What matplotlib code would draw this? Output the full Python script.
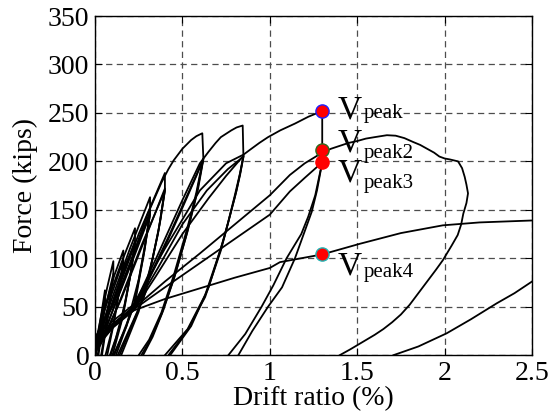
"""
Force vs drift ratio hysteresis with peak markers
"""

import matplotlib
matplotlib.use("Agg")
import matplotlib.pyplot as plt

plt.rcParams['font.family'] = ['Liberation Serif', 'DejaVu Serif']

# ---- data (drift %, force kips) ----
# small cycles near the origin
small_1 = [(0.00, 3), (0.02, 24), (0.04, 47), (0.057, 67), (0.057, 58), (0.045, 38), (0.03, 16), (0.015, 0)]
small_1b = [(0.005, 0), (0.03, 30), (0.057, 58), (0.05, 44), (0.035, 20), (0.02, 0)]
small_2 = [(0.00, 8), (0.03, 36), (0.07, 70), (0.105, 97), (0.105, 82), (0.085, 56), (0.06, 26), (0.035, 0)]
small_2b = [(0.01, 5), (0.05, 42), (0.105, 84), (0.09, 62), (0.065, 30), (0.04, 0)]
small_3 = [(0.00, 10), (0.05, 45), (0.11, 82), (0.162, 108), (0.162, 96), (0.135, 62), (0.10, 28), (0.06, 0)]
small_3b = [(0.02, 8), (0.08, 55), (0.162, 98), (0.14, 68), (0.11, 35), (0.07, 0)]
small_4 = [(0.00, 12), (0.06, 50), (0.15, 95), (0.229, 131), (0.229, 116), (0.20, 80), (0.15, 35), (0.09, 0)]
small_4b = [(0.02, 10), (0.10, 55), (0.229, 118), (0.205, 85), (0.16, 40), (0.10, 0)]
small_4c = [(0.01, 6), (0.09, 48), (0.17, 92), (0.229, 115), (0.21, 90), (0.17, 52), (0.12, 18), (0.085, 0)]
small_5 = [(0.00, 14), (0.08, 50), (0.20, 110), (0.315, 163), (0.315, 146), (0.28, 105), (0.22, 50), (0.11, 0)]
small_5b = [(0.03, 12), (0.12, 55), (0.315, 148), (0.285, 110), (0.23, 55), (0.12, 0)]
small_5c = [(0.02, 8), (0.11, 50), (0.22, 100), (0.315, 145), (0.29, 118), (0.25, 78), (0.18, 30), (0.105, 0)]
small_6 = [(0.00, 16), (0.10, 52), (0.25, 125), (0.40, 188), (0.40, 170), (0.36, 125), (0.28, 60), (0.13, 0)]
small_6b = [(0.04, 14), (0.15, 58), (0.40, 172), (0.365, 130), (0.29, 65), (0.14, 0)]
small_6c = [(0.03, 10), (0.14, 55), (0.27, 115), (0.40, 170), (0.375, 140), (0.33, 100), (0.25, 45), (0.15, 0)]

# cycles to 0.62 %
cyc_062a = [(0.00, 18), (0.10, 50), (0.20, 95), (0.30, 145), (0.38, 178), (0.42, 192), (0.45, 201),
            (0.50, 213), (0.55, 222), (0.58, 226), (0.614, 229), (0.62, 203), (0.60, 186), (0.58, 168),
            (0.55, 146), (0.52, 126), (0.45, 82), (0.38, 44), (0.31, 16), (0.25, 0)]
cyc_062b = [(0.00, 8), (0.10, 30), (0.22, 47), (0.30, 75), (0.40, 112), (0.50, 152), (0.58, 185),
            (0.62, 203), (0.60, 184), (0.58, 165), (0.52, 122), (0.45, 78), (0.38, 42), (0.32, 17), (0.265, 0)]
cyc_062c = [(0.00, 9), (0.10, 31), (0.22, 48), (0.32, 84), (0.42, 122), (0.52, 162), (0.62, 202),
            (0.59, 172), (0.53, 128), (0.46, 84), (0.39, 46), (0.33, 19), (0.275, 0)]

# cycles to 0.85 %
cyc_085a = [(0.00, 10), (0.10, 32), (0.22, 50), (0.35, 100), (0.50, 160), (0.60, 198), (0.65, 210),
            (0.69, 219), (0.72, 225), (0.78, 232), (0.81, 235), (0.845, 237), (0.849, 206), (0.83, 188),
            (0.80, 165), (0.76, 136), (0.72, 110), (0.63, 62), (0.53, 27), (0.40, 0)]
cyc_085b = [(0.00, 6), (0.10, 28), (0.22, 46), (0.35, 82), (0.50, 125), (0.65, 162), (0.75, 185),
            (0.85, 206), (0.83, 186), (0.80, 163), (0.72, 108), (0.63, 60), (0.53, 26), (0.42, 0)]
cyc_085c = [(0.00, 7), (0.10, 29), (0.22, 47), (0.36, 90), (0.50, 135), (0.64, 170), (0.76, 192),
            (0.85, 205), (0.81, 170), (0.74, 122), (0.65, 70), (0.55, 30), (0.43, 0)]

# cycles to 1.3 %
cyc_130a = [(0.00, 12), (0.10, 35), (0.22, 52), (0.40, 110), (0.60, 170), (0.75, 198), (0.85, 207),
            (0.887, 212), (0.94, 219), (0.99, 225), (1.06, 232), (1.144, 239), (1.22, 246), (1.30, 252),
            (1.30, 199), (1.27, 170), (1.24, 148), (1.20, 128), (1.144, 100), (1.07, 70), (0.99, 50),
            (0.90, 25), (0.82, 0)]
cyc_130b = [(0.00, 8), (0.10, 30), (0.22, 47), (0.40, 70), (0.60, 95), (0.80, 120), (1.00, 145),
            (1.115, 169), (1.20, 183), (1.30, 199), (1.26, 165), (1.22, 143), (1.18, 125), (1.096, 100),
            (1.02, 72), (0.953, 50), (0.86, 22), (0.763, 0)]

# cycle to 2.1 %
cyc_210 = [(0.00, 10), (0.10, 32), (0.22, 48), (0.40, 76), (0.60, 105), (0.80, 135), (1.00, 165),
           (1.115, 186), (1.20, 198), (1.30, 209), (1.35, 213), (1.40, 216), (1.45, 219), (1.50, 221),
           (1.55, 223.5), (1.60, 225), (1.67, 227), (1.72, 226.5), (1.77, 224), (1.82, 220), (1.86, 217),
           (1.90, 213), (1.94, 209), (1.97, 205), (2.00, 203), (2.03, 202), (2.077, 200), (2.10, 193),
           (2.115, 184), (2.125, 176), (2.134, 167), (2.125, 157), (2.107, 146), (2.095, 135),
           (2.075, 124), (2.04, 113), (1.99, 98), (1.95, 88), (1.90, 76), (1.85, 64), (1.80, 52),
           (1.75, 42), (1.70, 34), (1.65, 27), (1.60, 21), (1.516, 12), (1.46, 6), (1.40, 0)]

# large cycle beyond the plotted range
cyc_big_load = [(0.00, 8), (0.10, 30), (0.22, 46), (0.40, 58), (0.60, 69), (0.80, 80), (1.00, 90),
                (1.058, 96), (1.30, 104), (1.516, 115), (1.75, 126), (1.99, 134), (2.20, 137), (2.50, 139)]
cyc_big_unload = [(2.50, 76), (2.40, 64), (2.298, 53.5), (2.15, 37), (2.012, 22.6), (1.85, 9), (1.707, 0)]

curves = [small_1, small_1b, small_2, small_2b, small_3, small_3b, small_4, small_4b, small_4c,
          small_5, small_5b, small_5c, small_6, small_6b, small_6c, cyc_062a, cyc_062b, cyc_062c,
          cyc_085a, cyc_085b, cyc_085c, cyc_130a, cyc_130b, cyc_210, cyc_big_load, cyc_big_unload]

# peak markers
peak_names = ['peak', 'peak2', 'peak3', 'peak4']
peak_drift = [1.3, 1.3, 1.3, 1.3]
peak_force = [252, 212, 199, 104]
peak_edge = ['#1f1fff', '#2e6b1e', '#ff0000', '#22b2b2']

fig = plt.figure(figsize=(5.51, 4.2), dpi=100)
ax = fig.add_axes([0.1724, 0.1543, 0.7931, 0.8076])

for c in curves:
    xs = [p[0] for p in c]
    ys = [p[1] for p in c]
    ax.plot(xs, ys, color='black', lw=1.3, solid_joinstyle='round', zorder=3)

for name, x, y, ec in zip(peak_names, peak_drift, peak_force, peak_edge):
    ax.plot(x, y, 'o', ms=9.5, mfc='red', mec=ec, mew=1.0, zorder=5)

# labels next to the markers: big V plus small subscript
v_base = [244, 210, 179, 83]
sub_base = [245, 203, 173, 81]
for name, vb, sb in zip(peak_names, v_base, sub_base):
    ax.text(1.39, vb, 'V', fontsize=24, ha='left', va='baseline', zorder=6)
    ax.text(1.535, sb, name, fontsize=15, ha='left', va='baseline', zorder=6)

ax.set_xlim(0, 2.5)
ax.set_ylim(0, 350)
ax.set_xticks([0, 0.5, 1, 1.5, 2, 2.5])
ax.set_xticklabels(['0', '0.5', '1', '1.5', '2', '2.5'])
ax.set_yticks(range(0, 351, 50))

ax.grid(True, color='#4d4d4d', linestyle=(0, (5, 3.5)), lw=0.9)
ax.set_axisbelow(True)
ax.tick_params(direction='in', top=True, right=True, length=5, width=0.8, labelsize=20, pad=4)
for s in ax.spines.values():
    s.set_linewidth(1.0)

ax.set_xlabel('Drift ratio (%)', fontsize=20, labelpad=0)
ax.set_ylabel('Force (kips)', fontsize=20, labelpad=7)

fig.savefig('out.png', dpi=100)
